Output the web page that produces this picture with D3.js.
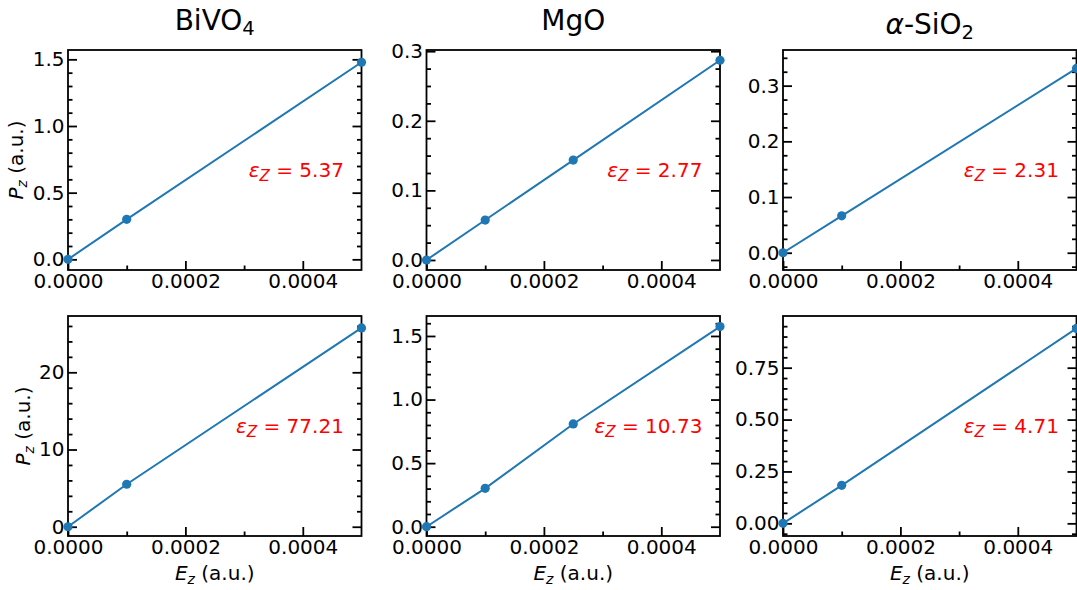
<!DOCTYPE html>
<html>
<head>
<meta charset="utf-8">
<script src="https://cdn.jsdelivr.net/npm/d3@7"></script>
<style>
  body { margin: 0; background: #fff; }
  svg { display: block; font-family: "DejaVu Sans", sans-serif; }
  text { white-space: pre; }
</style>
</head>
<body>
<svg id="fig" width="1077" height="590"></svg>
<script>
// ---- data -------------------------------------------------------------
// Applied field E_z (a.u.)
const fieldThree = [0, 0.0001, 0.0005];
const fieldFour = [0, 0.0001, 0.00025, 0.0005];

const materials = ["BiVO4", "MgO", "α-SiO2"];

// Induced polarisation P_z (a.u.), top row
const polTopBiVO4 = [0, 0.300, 1.478];
const polTopMgO = [0, 0.0574, 0.1435, 0.287];
const polTopSiO2 = [0, 0.0663, 0.331];

// Induced polarisation P_z (a.u.), bottom row
const polBotBiVO4 = [0, 5.50, 25.75];
const polBotMgO = [0, 0.302, 0.808, 1.574];
const polBotSiO2 = [0, 0.183, 0.939];

// Dielectric constants written in each panel
const epsTop = ["5.37", "2.77", "2.31"];
const epsBot = ["77.21", "10.73", "4.71"];

// Axis ranges and ticks
const xLimits = [0, 0.0005];
const xTicks = [0, 0.0002, 0.0004];
const xTickLabels = ["0.0000", "0.0002", "0.0004"];
const xMinorTicks = [0.0001, 0.0003];

const yLimits = [
  [-0.08, 1.57], [-0.0144, 0.3017], [-0.031, 0.364],
  [-1.2, 27.29], [-0.073, 1.657], [-0.061, 0.999]
];
const yTicks = [
  [0, 0.5, 1.0, 1.5], [0, 0.1, 0.2, 0.3], [0, 0.1, 0.2, 0.3],
  [0, 10, 20], [0, 0.5, 1.0, 1.5], [0, 0.25, 0.5, 0.75]
];
const yTickLabels = [
  ["0.0", "0.5", "1.0", "1.5"], ["0.0", "0.1", "0.2", "0.3"], ["0.0", "0.1", "0.2", "0.3"],
  ["0", "10", "20"], ["0.0", "0.5", "1.0", "1.5"], ["0.00", "0.25", "0.50", "0.75"]
];
const yMinorStep = [0.1, 0.025, 0.025, 2, 0.1, 0.05];

// ---- layout -----------------------------------------------------------
const colLeft = [68, 426.5, 783];
const rowTop = [50, 316];
const W = 293.5, H = 220;
const BLUE = "#1f77b4";
const FS = 20;          // tick / label font size
const MAJOR = 9, MINOR = 4.5, LW = 1.8;

const svg = d3.select("#fig");

const panels = [
  { row: 0, col: 0, x: fieldThree, y: polTopBiVO4, eps: epsTop[0] },
  { row: 0, col: 1, x: fieldFour, y: polTopMgO, eps: epsTop[1] },
  { row: 0, col: 2, x: fieldThree, y: polTopSiO2, eps: epsTop[2] },
  { row: 1, col: 0, x: fieldThree, y: polBotBiVO4, eps: epsBot[0] },
  { row: 1, col: 1, x: fieldFour, y: polBotMgO, eps: epsBot[1] },
  { row: 1, col: 2, x: fieldThree, y: polBotSiO2, eps: epsBot[2] }
];

// Write runs of text (italic / subscript) into a <text> element
function richText(sel, parts, size) {
  let shift = 0;
  parts.forEach(p => {
    const target = p.sub ? size * 0.2 : 0;
    const fsz = p.sub ? size * (p.subScale || 0.7) : size;
    sel.append("tspan")
      .attr("dy", target - shift)
      .attr("font-size", fsz)
      .attr("font-style", p.italic ? "italic" : "normal")
      .text(p.t);
    shift = target;
  });
}

// Chemical formula: digits become subscripts, Greek letters italic
function formulaParts(name) {
  const parts = [];
  for (const ch of name) {
    const kind = /[0-9]/.test(ch) ? "sub" : (/[α-ω]/.test(ch) ? "it" : "n");
    const last = parts[parts.length - 1];
    if (last && last.kind === kind) last.t += ch;
    else parts.push({ t: ch, kind, sub: kind === "sub", italic: kind === "it" });
  }
  return parts;
}

function minorValues(lim, step, majors) {
  const out = [];
  for (let k = Math.ceil(lim[0] / step - 1e-9); k * step <= lim[1] + 1e-12; k++) {
    const v = +(k * step).toFixed(10);
    if (!majors.some(m => Math.abs(m - v) < step * 1e-3)) out.push(v);
  }
  return out;
}

function styleAxis(g) {
  g.select(".domain").remove();
  g.attr("font-size", FS).attr("font-family", "DejaVu Sans");
  g.selectAll("line").attr("stroke", "#000").attr("stroke-width", LW);
  g.selectAll("text").attr("fill", "#000");
}

panels.forEach((p, i) => {
  const left = colLeft[p.col], top = rowTop[p.row];
  const g = svg.append("g").attr("transform", `translate(${left},${top})`);
  const xs = d3.scaleLinear().domain(xLimits).range([0, W]);
  const ys = d3.scaleLinear().domain(yLimits[i]).range([H, 0]);
  const yMin = minorValues(yLimits[i], yMinorStep[i], yTicks[i]);

  // left axis: major with labels, then minor
  g.append("g").call(d3.axisLeft(ys).tickValues(yTicks[i])
      .tickFormat((d, k) => yTickLabels[i][k]).tickSize(-MAJOR).tickSizeOuter(0).tickPadding(3.5))
    .call(styleAxis);
  g.append("g").call(d3.axisLeft(ys).tickValues(yMin).tickFormat("").tickSize(-MINOR).tickSizeOuter(0))
    .call(styleAxis);
  // right axis ticks, inward
  g.append("g").attr("transform", `translate(${W},0)`)
    .call(d3.axisRight(ys).tickValues(yTicks[i]).tickFormat("").tickSize(-MAJOR).tickSizeOuter(0))
    .call(styleAxis);
  g.append("g").attr("transform", `translate(${W},0)`)
    .call(d3.axisRight(ys).tickValues(yMin).tickFormat("").tickSize(-MINOR).tickSizeOuter(0))
    .call(styleAxis);
  // bottom axis
  g.append("g").attr("transform", `translate(0,${H})`)
    .call(d3.axisBottom(xs).tickValues(xTicks)
      .tickFormat((d, k) => xTickLabels[k]).tickSize(-MAJOR).tickSizeOuter(0).tickPadding(4))
    .call(styleAxis);
  g.append("g").attr("transform", `translate(0,${H})`)
    .call(d3.axisBottom(xs).tickValues(xMinorTicks).tickFormat("").tickSize(-MINOR).tickSizeOuter(0))
    .call(styleAxis);

  // frame
  g.append("rect").attr("width", W).attr("height", H)
    .attr("fill", "none").attr("stroke", "#000").attr("stroke-width", LW);

  // data line and markers
  const pts = p.x.map((x, k) => [x, p.y[k]]);
  g.append("path").datum(pts)
    .attr("d", d3.line().x(d => xs(d[0])).y(d => ys(d[1])))
    .attr("fill", "none").attr("stroke", BLUE).attr("stroke-width", 2);
  g.selectAll("circle.pt").data(pts).join("circle")
    .attr("class", "pt")
    .attr("cx", d => xs(d[0])).attr("cy", d => ys(d[1]))
    .attr("r", 4.6).attr("fill", BLUE);

  // dielectric constant annotation
  const ann = g.append("text")
    .attr("x", W * 0.94).attr("y", p.row === 0 ? H * 0.577 : H * 0.534)
    .attr("text-anchor", "end").attr("fill", "#ff0000").attr("font-size", FS);
  richText(ann, [
    { t: "ε", italic: true },
    { t: "Z", italic: true, sub: true, subScale: 0.75 },
    { t: " = " + p.eps }
  ], FS);

  // column titles
  if (p.row === 0) {
    const tt = svg.append("text")
      .attr("x", left + W / 2).attr("y", p.col === 2 ? 33.5 : 29.5)
      .attr("text-anchor", "middle").attr("font-size", 28).attr("fill", "#000");
    richText(tt, formulaParts(materials[p.col]), 28);
  }

  // y label on the first column
  if (p.col === 0) {
    const lx = p.row === 0 ? 23 : 30;
    const yl = svg.append("text")
      .attr("transform", `translate(${lx},${top + H / 2}) rotate(-90)`)
      .attr("text-anchor", "middle").attr("font-size", FS).attr("fill", "#000");
    richText(yl, [{ t: "P", italic: true }, { t: "z", italic: true, sub: true }, { t: " (a.u.)" }], FS);
  }

  // x label on the bottom row
  if (p.row === 1) {
    const xl = svg.append("text")
      .attr("x", left + W / 2).attr("y", 580)
      .attr("text-anchor", "middle").attr("font-size", FS).attr("fill", "#000");
    richText(xl, [{ t: "E", italic: true }, { t: "z", italic: true, sub: true }, { t: " (a.u.)" }], FS);
  }
});
</script>
</body>
</html>
